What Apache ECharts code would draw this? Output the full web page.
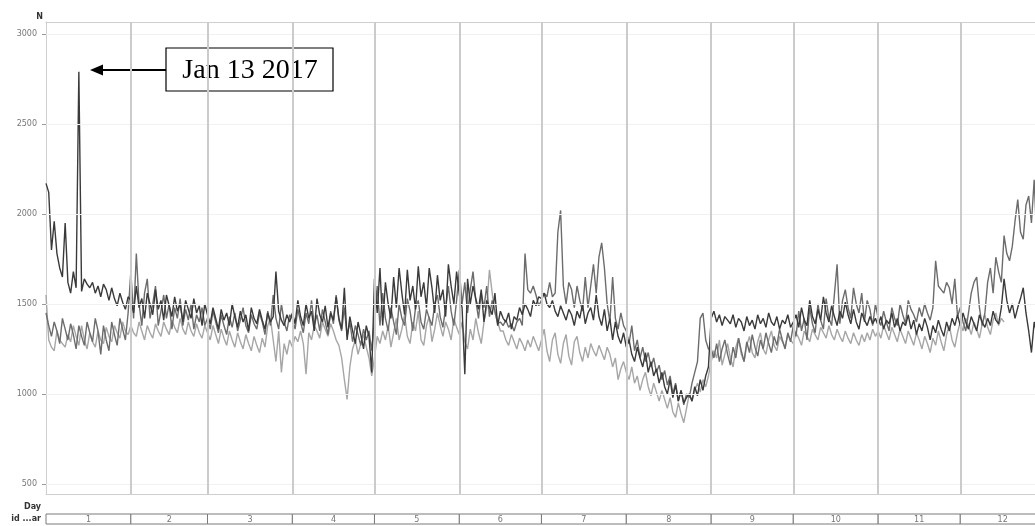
<!DOCTYPE html>
<html>
<head>
<meta charset="utf-8">
<script src="https://cdn.jsdelivr.net/npm/echarts@6/dist/echarts.min.js"></script>
<style>
  html, body { margin: 0; padding: 0; background: #fff; }
  #chart { width: 1035px; height: 526px; }
</style>
</head>
<body>
<div id="chart"></div>
<script>
// month labels and first day (0-based day of year) of each month
const months = ['1', '2', '3', '4', '5', '6', '7', '8', '9', '10', '11', '12'];
const monthStarts = [0, 31, 59, 90, 120, 151, 181, 212, 243, 273, 304, 334, 365];
const yTicks = [500, 1000, 1500, 2000, 2500, 3000];

// daily counts (Jan 1 .. ~Dec 29)
const seriesDark = [
  // jan
  2170, 2120, 1800, 1960, 1780, 1700, 1650, 1950, 1620, 1560, 1680, 1590, 2790, 1570, 1640, 1610, 1590, 1620, 1560, 1600, 1540, 1610, 1580, 1520, 1590, 1530, 1490, 1560, 1510, 1470, 1540,
  // feb
  1520, 1450, 1600, 1480, 1530, 1420, 1560, 1500, 1440, 1580, 1470, 1520, 1410, 1550, 1490, 1430, 1540, 1460, 1500, 1400, 1520, 1470, 1420, 1530, 1450, 1490, 1380, 1500,
  // mar
  1440, 1390, 1480, 1420, 1360, 1470, 1410, 1450, 1380, 1500, 1430, 1370, 1460, 1400, 1440, 1350, 1480, 1420, 1390, 1470, 1410, 1360, 1450, 1400, 1430, 1680, 1460, 1410, 1380, 1440, 1400,
  // apr
  1450, 1390, 1520, 1430, 1380, 1500, 1420, 1460, 1350, 1530, 1440, 1400, 1490, 1370, 1450, 1410, 1540, 1420, 1360, 1590, 1300, 1430, 1350, 1280, 1400, 1330, 1250, 1380, 1320, 1120,
  // may
  1640, 1450, 1700, 1380, 1620, 1500, 1420, 1650, 1480, 1700, 1560, 1440, 1690, 1520, 1600, 1470, 1710, 1540, 1620, 1480, 1700, 1590, 1450, 1660, 1520, 1580, 1430, 1720, 1600, 1500, 1680,
  // jun
  1550, 1480, 1110, 1640, 1500, 1600, 1530, 1470, 1580, 1400, 1520, 1480, 1440, 1560, 1380, 1460, 1420, 1400, 1450, 1360, 1430, 1410, 1480, 1440, 1500, 1470, 1430, 1520, 1490, 1540,
  // jul
  1530, 1560, 1500, 1480, 1520, 1460, 1430, 1490, 1450, 1410, 1470, 1440, 1380, 1460, 1420, 1500, 1390, 1450, 1480, 1410, 1550, 1430, 1380, 1470, 1350, 1420, 1300, 1400, 1320, 1280, 1340,
  // aug
  1260, 1300, 1220, 1180, 1260, 1200, 1150, 1230, 1120, 1180, 1100, 1140, 1060, 1120, 1040, 1000, 1080, 980, 1050, 960, 1020, 950, 980, 1000, 960, 1040, 990, 1080, 1020, 1100, 1150,
  // sep
  1420, 1460, 1400, 1440, 1380, 1430, 1410, 1390, 1440, 1370, 1420, 1400, 1350, 1430, 1380, 1410, 1360, 1440, 1390, 1420, 1370, 1450, 1400, 1380, 1430, 1360, 1410, 1390, 1440, 1370,
  // oct
  1400, 1440, 1370, 1480, 1410, 1380, 1520, 1430, 1390, 1470, 1410, 1540, 1450, 1400, 1490, 1430, 1380, 1460, 1420, 1510, 1440, 1390, 1470, 1400, 1360, 1450, 1410, 1380, 1430, 1390, 1420,
  // nov
  1380, 1430, 1360, 1410, 1390, 1450, 1370, 1420, 1350, 1400, 1380, 1440, 1360, 1410, 1330, 1390, 1350, 1420, 1370, 1300, 1380, 1340, 1410, 1360, 1320, 1400, 1350, 1420, 1380, 1440,
  // dec
  1380, 1450, 1400, 1360, 1430, 1390, 1350, 1440, 1400, 1370, 1420, 1380, 1460, 1410, 1390, 1480, 1640, 1520, 1450, 1500, 1420, 1480, 1530, 1590, 1450, 1350, 1230, 1400, 1330
];

const seriesMid = [
  // jan
  1450, 1380, 1320, 1400, 1350, 1280, 1420, 1360, 1300, 1390, 1330, 1250, 1380, 1320, 1270, 1400, 1340, 1290, 1420, 1350, 1220, 1380, 1300, 1240, 1400, 1330, 1270, 1420, 1360, 1300, 1450,
  // feb
  1680, 1420, 1780, 1500, 1380, 1560, 1640, 1420, 1500, 1600, 1380, 1460, 1550, 1420, 1500, 1360, 1480, 1420, 1530, 1380, 1470, 1410, 1500, 1360, 1440, 1400, 1480, 1380,
  // mar
  1420, 1360, 1460, 1400, 1340, 1440, 1380, 1330, 1430, 1370, 1450, 1350, 1410, 1480, 1380, 1340, 1440, 1390, 1360, 1450, 1400, 1330, 1460, 1380, 1550, 1420, 1360, 1500, 1400, 1350, 1440,
  // apr
  1420, 1360, 1470, 1400, 1340, 1450, 1390, 1520, 1380, 1440, 1350, 1470, 1400, 1330, 1460, 1390, 1550, 1410, 1350, 1480, 1320, 1400, 1290, 1380, 1330, 1270, 1360, 1300, 1350, 1240,
  // may
  1420, 1600, 1380, 1560, 1420, 1350, 1480, 1400, 1330, 1500, 1420, 1380, 1530, 1460, 1350, 1480, 1520, 1400, 1360, 1470, 1420, 1380, 1500, 1550, 1430, 1370, 1480, 1600, 1460, 1380, 1520,
  // jun
  1690, 1500, 1620, 1450, 1580, 1680, 1520, 1420, 1560, 1480, 1600, 1430, 1520, 1460, 1390, 1400, 1380, 1410, 1370, 1390, 1350, 1400, 1420, 1380, 1780, 1580, 1560, 1600, 1550, 1490,
  // jul
  1520, 1560, 1540, 1620, 1540, 1560, 1900, 2020, 1600, 1500, 1620, 1580, 1480, 1600, 1520, 1460, 1650, 1480, 1600, 1720, 1560, 1760, 1840, 1700, 1500, 1400, 1650, 1420, 1360, 1450, 1380,
  // aug
  1350, 1280, 1380, 1240, 1300, 1200, 1260, 1180, 1230, 1150, 1200, 1120, 1160, 1080, 1130, 1050, 1100, 1000, 1060, 960, 1020, 940, 1000, 980, 1060, 1120, 1180, 1420, 1450, 1300, 1250,
  // sep
  1250, 1200, 1280, 1180, 1250, 1300, 1220, 1160, 1260, 1200, 1310, 1240, 1180, 1290, 1230, 1330, 1260, 1210, 1300, 1250, 1340, 1280, 1230, 1320, 1270, 1360, 1300, 1250, 1340, 1290,
  // oct
  1380, 1320, 1460, 1350, 1420, 1300, 1480, 1390, 1340, 1500, 1410, 1360, 1530, 1420, 1380, 1550, 1720, 1390, 1520, 1580, 1480, 1420, 1590, 1500, 1450, 1560, 1400, 1520, 1470, 1380, 1500,
  // nov
  1420, 1380, 1460, 1400, 1350, 1480, 1420, 1380, 1500, 1440, 1390, 1520, 1470, 1440, 1400, 1480, 1430, 1500, 1450, 1410, 1480, 1740, 1600, 1580, 1560, 1620, 1590, 1500, 1640, 1430,
  // dec
  1480, 1400, 1350, 1450, 1560, 1620, 1650, 1480, 1380, 1450, 1620, 1700, 1560, 1760, 1680, 1620, 1880, 1780, 1740, 1820, 1960, 2080, 1900, 1860, 2050, 2100, 1950, 2190, 1840
];

const seriesLight = [
  // jan
  1550, 1300, 1260, 1240, 1350, 1300, 1280, 1260, 1330, 1290, 1380, 1320, 1270, 1380, 1300, 1250, 1340, 1290, 1260, 1350, 1300, 1280, 1370, 1320, 1290, 1380, 1340, 1310, 1400, 1350, 1330,
  // feb
  1380, 1340, 1320, 1400, 1350, 1300, 1380, 1340, 1310, 1390, 1350, 1320, 1400, 1360, 1330, 1410, 1370, 1340, 1420, 1360, 1330, 1400, 1350, 1320, 1390, 1340, 1310, 1380,
  // mar
  1340, 1300, 1380, 1330, 1280, 1360, 1310, 1270, 1350, 1300, 1260, 1340, 1290, 1250, 1330, 1280, 1240, 1320, 1270, 1230, 1310, 1260, 1380, 1420, 1300, 1180, 1350, 1120, 1280, 1220, 1300,
  // apr
  1260, 1320, 1290, 1350, 1280, 1110, 1340, 1300, 1380, 1350, 1310, 1400, 1360, 1320, 1390, 1350, 1300, 1270, 1200, 1080, 970, 1150, 1250, 1300, 1220, 1280, 1330, 1260, 1200, 1100,
  // may
  1200, 1320, 1280, 1350, 1300, 1380, 1260, 1340, 1420, 1300, 1360, 1440, 1320, 1280, 1400, 1350, 1460, 1300, 1270, 1380, 1430, 1290, 1360, 1450, 1380, 1320, 1400, 1360, 1300, 1420, 1370,
  // jun
  1330, 1400, 1290, 1250, 1360, 1300, 1420, 1340, 1280, 1400, 1480, 1690, 1560, 1450, 1400, 1350, 1350, 1300, 1270, 1330, 1290, 1250, 1310, 1280, 1240, 1300, 1260, 1320, 1280, 1240,
  // jul
  1300, 1360, 1240, 1180, 1300, 1340, 1220, 1170, 1280, 1330, 1210, 1160, 1290, 1320, 1230, 1180, 1260, 1200, 1280, 1240, 1210, 1270, 1230, 1190, 1260, 1220, 1150, 1200, 1080, 1140, 1180,
  // aug
  1120, 1080, 1150, 1060, 1100, 1020, 1080, 1120, 1040, 990, 1060, 1010, 960, 1020, 970, 920, 980, 900, 870, 950, 890, 840, 920, 1000, 960, 1020, 1060, 1010, 1080, 1040, 1100,
  // sep
  1180, 1240, 1200, 1300, 1160, 1220, 1280, 1200, 1150, 1260, 1310, 1220, 1180, 1270, 1320, 1230, 1200, 1290, 1340, 1250, 1220, 1300, 1350, 1270, 1240, 1320, 1290, 1260, 1330, 1300,
  // oct
  1280, 1340, 1310, 1270, 1350, 1320, 1290, 1360, 1330, 1300, 1370, 1340, 1310, 1380, 1330, 1300, 1360, 1320, 1290, 1350, 1310, 1280, 1340, 1300, 1270, 1330, 1290, 1340, 1300, 1360, 1320,
  // nov
  1350, 1310, 1380, 1340, 1300, 1370, 1330, 1290, 1360, 1320, 1280, 1350, 1310, 1270, 1340, 1300, 1250, 1320, 1280, 1230, 1310, 1270, 1350, 1290, 1240, 1330, 1380, 1300, 1260, 1340,
  // dec (ends mid month)
  1400, 1350, 1420, 1380, 1330, 1400, 1360, 1310, 1390, 1440, 1370, 1330, 1410, 1450, 1380, 1420, 1400,
  null, null, null, null, null, null, null, null, null, null, null, null
];

const toXY = arr => arr.map((v, i) => [i, v]);

// last day visible at the right edge of the picture
const dayMax = 361.3;
const borderColor = '#cfcfcf';

const chart = echarts.init(document.getElementById('chart'));

const lineBase = {
  type: 'line',
  showSymbol: false,
  symbol: 'none',
  connectNulls: false,
  silent: true
};

chart.setOption({
  animation: false,
  backgroundColor: '#fff',
  grid: [
    { left: 46, right: 0, top: 22, height: 472 },
    { left: 46, right: 0, top: 514, height: 10 }
  ],
  xAxis: [
    {
      type: 'value', gridIndex: 0, min: 0, max: dayMax, position: 'bottom',
      axisLine: { show: true, lineStyle: { color: borderColor } },
      axisTick: { show: false }, axisLabel: { show: false }, splitLine: { show: false }
    },
    {
      type: 'value', gridIndex: 0, min: 0, max: dayMax, position: 'top',
      axisLine: { show: true, lineStyle: { color: borderColor } },
      axisTick: { show: false }, axisLabel: { show: false }, splitLine: { show: false }
    },
    {
      type: 'value', gridIndex: 1, min: 0, max: dayMax, show: false
    }
  ],
  yAxis: [
    {
      type: 'value', gridIndex: 0, min: 444, max: 3067,
      name: 'N',
      nameLocation: 'end',
      nameGap: 1,
      nameTextStyle: { fontSize: 8, fontWeight: 'bold', color: '#333', align: 'right', padding: [0, 3, 0, 0], fontFamily: 'DejaVu Sans' },
      axisLine: { show: true, lineStyle: { color: borderColor } },
      axisTick: { show: true, customValues: yTicks, length: 4, lineStyle: { color: '#999' } },
      axisLabel: { customValues: yTicks, formatter: v => String(v), fontSize: 8, color: '#777', margin: 9, fontFamily: 'DejaVu Sans' },
      splitLine: { show: false }
    },
    {
      type: 'value', gridIndex: 1, min: 0, max: 1, show: false
    }
  ],
  series: [
    {
      // reference lines: month boundaries and horizontal grid
      type: 'line', data: [], z: 1, silent: true,
      markLine: {
        silent: true,
        symbol: ['none', 'none'],
        label: { show: false },
        animation: false,
        data: [
          ...yTicks.map(v => ({ yAxis: v, lineStyle: { color: '#f1f1f1', width: 1, type: 'solid' } })),
          ...monthStarts.slice(1, 12).map(v => ({ xAxis: v, lineStyle: { color: '#cbcbcb', width: 2, type: 'solid' } }))
        ]
      }
    },
    Object.assign({}, lineBase, { name: 'light', data: toXY(seriesLight), z: 2, lineStyle: { color: '#a6a6a6', width: 1.4 } }),
    Object.assign({}, lineBase, { name: 'mid', data: toXY(seriesMid), z: 3, lineStyle: { color: '#6c6c6c', width: 1.4 } }),
    Object.assign({}, lineBase, { name: 'dark', data: toXY(seriesDark), z: 4, lineStyle: { color: '#3a3a3a', width: 1.4 } }),
    {
      // month strip under the plot
      type: 'custom',
      xAxisIndex: 2,
      yAxisIndex: 1,
      silent: true,
      data: months.map((m, i) => [monthStarts[i], monthStarts[i + 1]]),
      renderItem: (params, api) => {
        const p0 = api.coord([api.value(0), 1]);
        const p1 = api.coord([api.value(1), 0]);
        return {
          type: 'group',
          children: [
            {
              type: 'rect',
              shape: { x: p0[0], y: p0[1], width: p1[0] - p0[0], height: p1[1] - p0[1] },
              style: { fill: '#fff', stroke: '#7a7a7a', lineWidth: 1 }
            },
            {
              type: 'text',
              x: (p0[0] + p1[0]) / 2,
              y: (p0[1] + p1[1]) / 2 + 1,
              style: { text: months[params.dataIndex], fontSize: 8, fill: '#777', align: 'center', verticalAlign: 'middle', fontFamily: 'DejaVu Sans' }
            }
          ]
        };
      }
    }
  ],
  graphic: [
    { type: 'text', right: 1035 - 41, top: 503, style: { text: 'Day', fontSize: 8, fontWeight: 'bold', fill: '#333', fontFamily: 'DejaVu Sans' } },
    { type: 'text', right: 1035 - 41, top: 515, style: { text: 'id ...ar', fontSize: 8, fontWeight: 'bold', fill: '#333', fontFamily: 'DejaVu Sans' } },
    // annotation box with arrow
    {
      type: 'group',
      children: [
        { type: 'rect', shape: { x: 166, y: 48, width: 167, height: 43 }, style: { fill: '#fff', stroke: '#000', lineWidth: 1.2 } },
        { type: 'text', x: 250, y: 71, style: { text: 'Jan 13 2017', fontSize: 28, fill: '#000', fontFamily: 'Liberation Serif', align: 'center', verticalAlign: 'middle' } },
        { type: 'line', shape: { x1: 166, y1: 70, x2: 100, y2: 70 }, style: { stroke: '#000', lineWidth: 2 } },
        { type: 'polygon', shape: { points: [[90, 70], [103, 64.5], [103, 75.5]] }, style: { fill: '#000' } }
      ]
    }
  ]
});
</script>
</body>
</html>
